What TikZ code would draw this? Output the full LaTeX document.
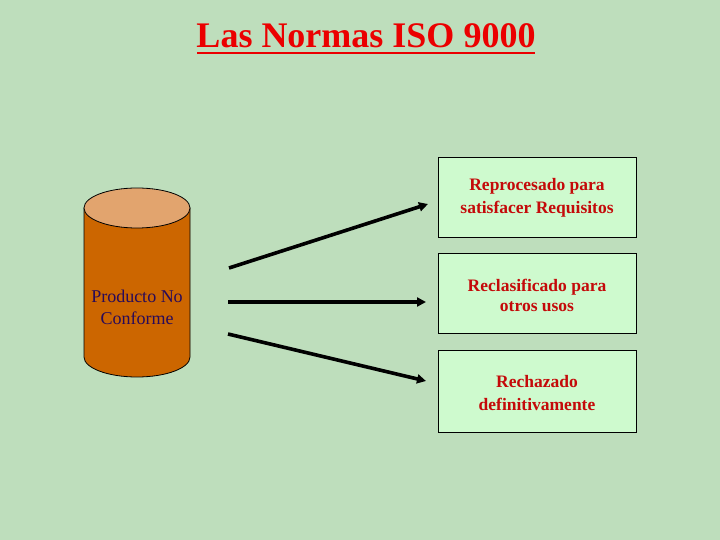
\documentclass[tikz,border=0pt]{standalone}
\usepackage{fontspec}
\setmainfont{Liberation Serif}
\usetikzlibrary{arrows.meta}
\definecolor{bgcol}{RGB}{190,222,188}
\definecolor{boxfill}{RGB}{206,250,206}
\definecolor{boxtext}{RGB}{196,10,10}
\definecolor{cylbody}{RGB}{204,102,0}
\definecolor{cyltop}{RGB}{226,164,110}
\definecolor{cyltext}{RGB}{40,10,90}
\definecolor{titlered}{RGB}{235,0,0}
\tikzset{
  optbox/.style={draw=black, line width=0.8pt, fill=boxfill, minimum width=198pt, minimum height=80pt,
    text width=196pt, align=center, font=\fontsize{17.5}{22}\selectfont\bfseries, text=boxtext, inner sep=0pt},
  flow/.style={line width=3.6pt, -{Triangle[length=9pt,width=9pt]}}
}
\begin{document}
\begin{tikzpicture}[x=1pt,y=-1pt]
\useasboundingbox (0,0) rectangle (720,540);
\fill[bgcol] (0,0) rectangle (720,540);
% title
\node[text=titlered, font=\fontsize{36}{40}\selectfont\bfseries, anchor=base, inner sep=0pt] (title) at (366,48) {Las Normas ISO 9000};
\draw[titlered, line width=2pt] (197,53) -- (535,53);
% cylinder
\draw[fill=cylbody, line width=0.8pt] (84,208) -- (84,357) arc[start angle=180, end angle=0, x radius=53, y radius=20] -- (190,208) -- cycle;
\draw[fill=cyltop, line width=0.8pt] (137,208) ellipse[x radius=53, y radius=20];
\node[text=cyltext, align=center, font=\fontsize{18}{22}\selectfont] (cyl) at (137,307) {Producto No\\Conforme};
% boxes
\node[draw=black, line width=0.8pt, fill=boxfill, minimum width=198pt, minimum height=80pt] (b1) at (537,197) {};
\node[draw=black, line width=0.8pt, fill=boxfill, minimum width=198pt, minimum height=80pt] (b2) at (537,293) {};
\node[draw=black, line width=0.8pt, fill=boxfill, minimum width=198pt, minimum height=82pt] (b3) at (537,391) {};
\node[text=boxtext, align=center, font=\fontsize{17.5}{23}\selectfont\bfseries] (t1) at (537,198) {Reprocesado para\\satisfacer Requisitos};
\node[text=boxtext, align=center, font=\fontsize{17.5}{20}\selectfont\bfseries] (t2) at (537,295) {Reclasificado para\\otros usos};
\node[text=boxtext, align=center, font=\fontsize{17.5}{23}\selectfont\bfseries] (t3) at (537,393) {Rechazado\\definitivamente};
% arrows
\coordinate (s1) at (229,268);
\coordinate (e1) at (428,204);
\coordinate (s2) at (228,302);
\coordinate (e2) at (426,302);
\coordinate (s3) at (228,334);
\coordinate (e3) at (426,381);
\draw[flow] (s1) -- (e1);
\draw[flow] (s2) -- (e2);
\draw[flow] (s3) -- (e3);
\end{tikzpicture}
\end{document}
